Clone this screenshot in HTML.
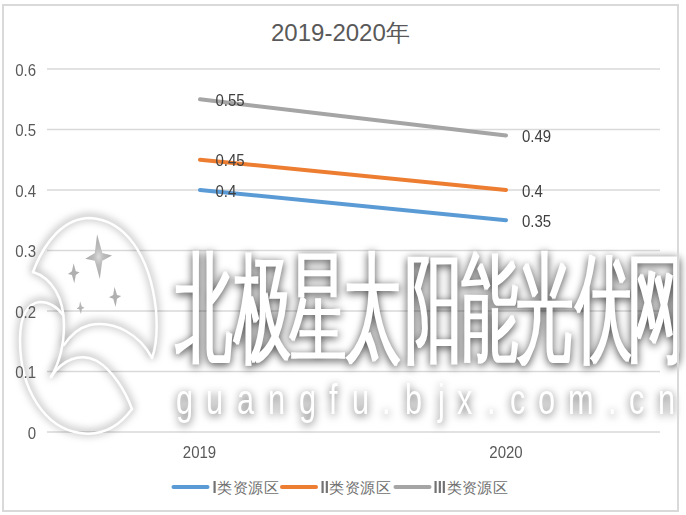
<!DOCTYPE html>
<html><head><meta charset="utf-8">
<style>
html,body{margin:0;padding:0;background:#fff;width:686px;height:515px;overflow:hidden;position:relative;font-family:"Liberation Sans",sans-serif}
.frame{position:absolute;z-index:5;left:2px;top:4px;width:677px;height:508px;box-sizing:border-box;border:2px solid #d9d9d9}
.t{position:absolute;white-space:nowrap;line-height:1}
.title{left:271px;top:20.5px;font-size:24px;color:#595959}
.yl{right:650px;font-size:15px;color:#595959;text-align:right;transform:scaleY(1.09)}
.xl{font-size:15px;color:#595959;text-align:center;width:80px;transform:scaleY(1.09)}
.dl{font-size:15px;color:#404040;transform:scaleY(1.09)}
.lg{font-size:15px;color:#595959}
.cj{letter-spacing:0.45px;margin-left:0.5px;color:#707070}
.lg b{font-weight:700;color:#727272;display:inline-block;transform:scaleY(1.06)}
svg{position:absolute;left:0;top:0}
.big{position:absolute;top:247.5px;font-size:121px;line-height:1;font-weight:400;color:#fff;transform:scaleX(0.475);transform-origin:0 0;white-space:nowrap}
.url{position:absolute;top:378.5px;font-size:42px;line-height:1;color:#fff;transform:scaleX(0.73);transform-origin:0 0}
</style></head><body>
<div class="frame"></div>
<svg width="686" height="515">
<g stroke="#d9d9d9" stroke-width="1.6">
<line x1="47" y1="69" x2="660" y2="69"/>
<line x1="47" y1="129.5" x2="660" y2="129.5"/>
<line x1="47" y1="190" x2="660" y2="190"/>
<line x1="47" y1="250.5" x2="660" y2="250.5"/>
<line x1="47" y1="311" x2="660" y2="311"/>
<line x1="47" y1="371.5" x2="660" y2="371.5"/>
<line x1="47" y1="432" x2="660" y2="432"/>
</g>
<g fill="none" stroke-width="4" stroke-linecap="round">
<line x1="200" y1="190" x2="506" y2="220.25" stroke="#5b9bd5"/>
<line x1="200" y1="159.75" x2="506" y2="190" stroke="#ed7d31"/>
<line x1="200" y1="99.25" x2="506" y2="135.55" stroke="#a5a5a5"/>
</g>
<g stroke-width="4" stroke-linecap="round">
<line x1="173.5" y1="487" x2="207.5" y2="487" stroke="#5b9bd5"/>
<line x1="282" y1="487" x2="316" y2="487" stroke="#ed7d31"/>
<line x1="395.5" y1="487" x2="429.5" y2="487" stroke="#a5a5a5"/>
</g>
</svg>

<svg width="0" height="0" style="position:absolute">
<defs>
<filter id="fb" x="-20%" y="-20%" width="140%" height="140%" color-interpolation-filters="sRGB"><feMorphology in="SourceAlpha" operator="dilate" radius="1.1 0.2" result="thick"/>
<feGaussianBlur in="thick" stdDeviation="4" result="blur"/>
<feOffset in="blur" dx="-0.5" dy="1.5" result="off"/>
<feFlood flood-color="#000" flood-opacity="0.75"/>
<feComposite in2="off" operator="in" result="shadow"/>
<feFlood flood-color="#fff"/>
<feComposite in2="thick" operator="in" result="white"/>
<feMerge><feMergeNode in="shadow"/><feMergeNode in="white"/></feMerge>
</filter>
<filter id="fu" x="-20%" y="-20%" width="140%" height="140%" color-interpolation-filters="sRGB"><feMorphology in="SourceAlpha" operator="dilate" radius="0.4 0.2" result="thick"/>
<feGaussianBlur in="thick" stdDeviation="4.5" result="blur"/>
<feOffset in="blur" dx="-0.5" dy="2" result="off"/>
<feFlood flood-color="#000" flood-opacity="0.66"/>
<feComposite in2="off" operator="in" result="shadow"/>
<feFlood flood-color="#fff"/>
<feComposite in2="thick" operator="in" result="white"/>
<feMerge><feMergeNode in="shadow"/><feMergeNode in="white"/></feMerge>
</filter>
<filter id="fl" x="-20%" y="-20%" width="140%" height="140%" color-interpolation-filters="sRGB">
<feGaussianBlur in="SourceAlpha" stdDeviation="4" result="blur"/>
<feOffset in="blur" dx="0" dy="-1" result="off"/>
<feFlood flood-color="#000" flood-opacity="0.6"/>
<feComposite in2="off" operator="in" result="shadow"/>
<feMerge><feMergeNode in="shadow"/><feMergeNode in="SourceGraphic"/></feMerge>
</filter>
<filter id="fs" x="-50%" y="-50%" width="200%" height="200%"><feGaussianBlur stdDeviation="0.6"/></filter>
</defs></svg>
<div class="wm" style="position:absolute;left:0;top:0;width:686px;height:515px;filter:url(#fb)">
<div class="big" style="left:175px">北</div>
<div class="big" style="left:234px">极</div>
<div class="big" style="left:289px">星</div>
<div class="big" style="left:344px">太</div>
<div class="big" style="left:405px">阳</div>
<div class="big" style="left:461px">能</div>
<div class="big" style="left:516px">光</div>
<div class="big" style="left:575px">伏</div>
<div class="big" style="left:626.5px">网</div>
</div>
<div class="wm" style="position:absolute;left:0;top:0;width:686px;height:515px;filter:url(#fu)">
<div class="url" style="left:175.75px">g</div>
<div class="url" style="left:206px">u</div>
<div class="url" style="left:236.5px">a</div>
<div class="url" style="left:267.5px">n</div>
<div class="url" style="left:298.5px">g</div>
<div class="url" style="left:329px">f</div>
<div class="url" style="left:352px">u</div>
<div class="url" style="left:381.5px">.</div>
<div class="url" style="left:405.3px">b</div>
<div class="url" style="left:438px">j</div>
<div class="url" style="left:457.3px">x</div>
<div class="url" style="left:487px">.</div>
<div class="url" style="left:509.5px">c</div>
<div class="url" style="left:537.5px">o</div>
<div class="url" style="left:567.7px">m</div>
<div class="url" style="left:607.6px">.</div>
<div class="url" style="left:628.6px">c</div>
<div class="url" style="left:658px">n</div>
</div>
<svg width="686" height="515" style="position:absolute;left:0;top:0;filter:url(#fl)">
<g fill="none" stroke="#fff" stroke-width="2.5" stroke-linecap="round" stroke-linejoin="round">
<path d="M33 272 C45 240 65 218 90 218 C125 220 150 255 156 310 C158 335 155 350 152 358"/>
<path d="M152 358 C140 335 115 320 90 325 C78 328 70 336 64 345"/>
<path d="M33 272 C52 278 64 298 64 325 C64 350 58 365 51 377"/>
<path d="M51 377 C62 360 80 352 97 361 C112 370 125 390 132 409"/>
<path d="M132 409 C118 428 100 436 80 433 C45 428 20 390 20 340 C20 315 28 303 40 302 C50 302 58 308 63 315"/>
</g>
</svg>
<svg width="686" height="515" style="position:absolute;left:0;top:0">
<defs><radialGradient id="sg" cx="0.5" cy="0.5" r="0.5"><stop offset="0" stop-color="#dcdcdc"/><stop offset="0.35" stop-color="#bdbdbd"/><stop offset="1" stop-color="#a9a9a9"/></radialGradient></defs>
<g filter="url(#fs)">
<path fill="url(#sg)" d="M97.1 234.3 L102.3 253.1 L112.0 255.4 L102.3 260.7 L99.8 279.1 L94.8 260.7 L85.3 258.8 L94.8 253.1Z"/>
<path fill="#b0b0b0" d="M73.6 263.2 L75.8 271.3 L79.6 272.3 L75.8 275.1 L74.3 283.3 L71.9 275.1 L67.9 274.0 L71.9 271.3Z"/>
<path fill="#b0b0b0" d="M114.5 286.8 L117.0 294.9 L121.2 296.0 L117.0 298.7 L115.6 307.0 L113.2 298.7 L109.0 297.3 L113.2 294.9Z"/>
<path fill="#b5b5b5" d="M80.1 301.3 L81.8 306.6 L84.5 307.8 L81.8 309.2 L81.0 314.0 L79.2 309.2 L76.6 308.7 L79.2 306.6Z"/>
</g>
</svg>
<div class="t title">2019-2020年</div>
<div class="t yl" style="top:62.5px">0.6</div>
<div class="t yl" style="top:123px">0.5</div>
<div class="t yl" style="top:183.5px">0.4</div>
<div class="t yl" style="top:244px">0.3</div>
<div class="t yl" style="top:304.5px">0.2</div>
<div class="t yl" style="top:365px">0.1</div>
<div class="t yl" style="top:425.5px">0</div>
<div class="t xl" style="left:159.5px;top:445px">2019</div>
<div class="t xl" style="left:466px;top:445px">2020</div>
<div class="t dl" style="left:215.5px;top:93px">0.55</div>
<div class="t dl" style="left:215.5px;top:153px">0.45</div>
<div class="t dl" style="left:215.5px;top:183.5px">0.4</div>
<div class="t dl" style="left:522px;top:129px">0.49</div>
<div class="t dl" style="left:522px;top:183.5px">0.4</div>
<div class="t dl" style="left:522px;top:213.5px">0.35</div>
<div class="t lg" style="left:212.5px;top:480px"><b>I</b><span class="cj">类资源区</span></div>
<div class="t lg" style="left:320.5px;top:480px"><b>II</b><span class="cj">类资源区</span></div>
<div class="t lg" style="left:433.5px;top:480px"><b>III</b><span class="cj">类资源区</span></div>
</body></html>
